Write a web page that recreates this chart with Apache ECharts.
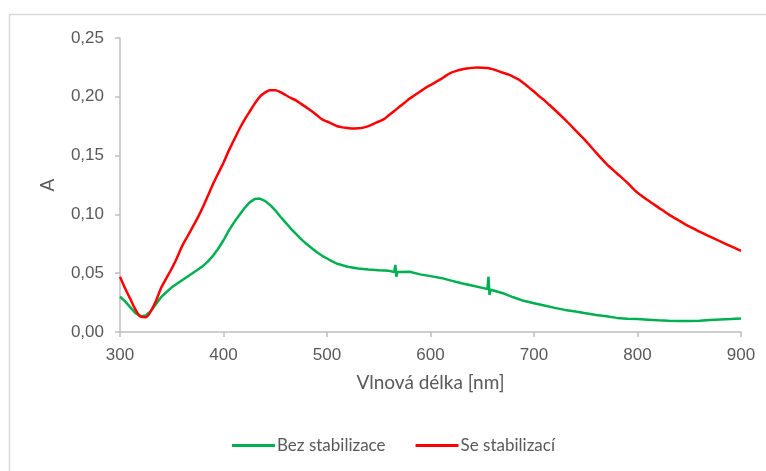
<!DOCTYPE html>
<html>
<head>
<meta charset="utf-8">
<script src="https://cdn.jsdelivr.net/npm/echarts@6/dist/echarts.min.js"></script>
<style>
html,body{margin:0;padding:0;background:#fff;}
#chart{width:766px;height:471px;}
</style>
</head>
<body>
<div id="chart"></div>
<script>
// Data
var seriesNames = ['Bez stabilizace', 'Se stabilizací'];
var xTicks = [300, 400, 500, 600, 700, 800, 900];
var yTicks = [0, 0.05, 0.10, 0.15, 0.20, 0.25];

var nmRed = [300,305,310,315,320,325,330,335,340,345,350,355,360,365,370,375,380,385,390,395,400,405,410,415,420,425,430,435,440,445,450,455,460,465,470,475,480,485,490,495,500,505,510,515,520,525,530,535,540,545,550,555,560,565,570,575,580,585,590,595,600,605,610,615,620,625,630,635,640,645,650,655,660,665,670,675,680,685,690,695,700,705,710,715,720,730,740,750,760,770,780,790,800,810,820,830,840,850,860,870,880,890,900];
var absRed = [0.047,0.037,0.028,0.019,0.013,0.0125,0.018,0.027,0.038,0.046,0.054,0.063,0.073,0.081,0.089,0.097,0.106,0.116,0.126,0.135,0.144,0.154,0.163,0.172,0.180,0.187,0.194,0.200,0.2035,0.2055,0.2055,0.204,0.2015,0.199,0.197,0.194,0.191,0.188,0.1845,0.181,0.179,0.177,0.175,0.174,0.1735,0.173,0.1732,0.1738,0.175,0.177,0.179,0.181,0.1845,0.188,0.1915,0.195,0.1985,0.2015,0.2045,0.2075,0.210,0.2125,0.215,0.218,0.2205,0.222,0.2232,0.224,0.2246,0.2249,0.2248,0.2245,0.2235,0.222,0.2205,0.219,0.217,0.2148,0.2115,0.208,0.2045,0.2005,0.197,0.193,0.189,0.1805,0.1715,0.1625,0.1525,0.143,0.135,0.127,0.1185,0.112,0.106,0.100,0.0948,0.0898,0.0853,0.081,0.077,0.073,0.069];

var nmGreen = [300,305,310,315,320,325,330,335,340,345,350,355,360,365,370,375,380,385,390,395,400,405,410,415,420,425,430,435,440,445,450,455,460,465,470,475,480,485,490,495,500,505,510,515,520,530,540,550,560,565,566,567,568,570,580,590,600,610,620,630,640,650,655,656,657,658,660,670,680,690,700,710,720,730,740,750,760,770,780,790,800,810,820,830,840,850,860,870,880,890,900];
var absGreen = [0.030,0.026,0.021,0.016,0.0135,0.014,0.018,0.024,0.030,0.034,0.038,0.041,0.044,0.047,0.050,0.053,0.056,0.060,0.065,0.071,0.078,0.086,0.093,0.099,0.105,0.110,0.1130,0.1135,0.1115,0.108,0.1035,0.098,0.093,0.088,0.0835,0.079,0.075,0.0715,0.068,0.065,0.0625,0.060,0.058,0.0567,0.0555,0.054,0.0532,0.0525,0.052,0.051,0.057,0.047,0.051,0.051,0.0512,0.049,0.0475,0.046,0.0437,0.0415,0.0395,0.0375,0.0365,0.047,0.0315,0.036,0.0355,0.033,0.0295,0.0265,0.0245,0.0225,0.0205,0.0188,0.0175,0.016,0.0145,0.0133,0.012,0.0113,0.011,0.0105,0.010,0.0096,0.0094,0.0093,0.0096,0.0101,0.0106,0.011,0.0115];

function pairs(xs, ys){ return xs.map(function(x,i){ return [x, ys[i]]; }); }

var chart = echarts.init(document.getElementById('chart'), null, {renderer:'canvas'});
var axisColor = '#bfbfbf';
var textColor = '#595959';
var titleFont = 'Lato, "Noto Sans", sans-serif';
var tickFont = '"Liberation Sans", Arial, sans-serif';
var option = {
  animation: false,
  backgroundColor: '#ffffff',
  graphic: [{
    type: 'rect', silent: true, z: -1,
    shape: {x: 9.5, y: 14.5, width: 820, height: 520},
    style: {fill: 'none', stroke: '#d9d9d9', lineWidth: 1.5}
  }],
  grid: {left: 120, right: 25, top: 38, bottom: 139, containLabel: false},
  legend: {
    data: seriesNames,
    left: 232, top: 437, padding: 0,
    icon: 'rect', itemWidth: 43, itemHeight: 3, itemGap: 30,
    textStyle: {color: textColor, fontSize: 17, fontFamily: titleFont, padding: [0,0,0,-3]}
  },
  xAxis: {
    type: 'value', min: xTicks[0], max: xTicks[xTicks.length-1], interval: 100,
    name: 'Vlnová délka [nm]', nameLocation: 'middle', nameGap: 41,
    nameTextStyle: {color: textColor, fontSize: 19, fontFamily: titleFont},
    axisLine: {show: true, lineStyle: {color: axisColor, width: 1.5}},
    axisTick: {show: true, length: 5, lineStyle: {color: axisColor, width: 1.5}},
    axisLabel: {color: textColor, fontSize: 17, margin: 15, fontFamily: tickFont},
    splitLine: {show: false}
  },
  yAxis: {
    type: 'value', min: 0, max: yTicks[yTicks.length-1], interval: 0.05,
    name: 'A', nameLocation: 'middle', nameGap: 63, nameRotate: 90,
    nameTextStyle: {color: textColor, fontSize: 19, fontFamily: titleFont},
    axisLine: {show: true, lineStyle: {color: axisColor, width: 1.5}},
    axisTick: {show: true, length: 5, lineStyle: {color: axisColor, width: 1.5}},
    axisLabel: {color: textColor, fontSize: 17, margin: 16, fontFamily: tickFont,
      formatter: function(v){ return v.toFixed(2).replace('.', ','); }},
    splitLine: {show: false}
  },
  series: [
    {name: seriesNames[0], type: 'line', data: pairs(nmGreen, absGreen), showSymbol: false, symbol: 'none',
     itemStyle: {color: '#00b050'}, lineStyle: {color: '#00b050', width: 2.5}},
    {name: seriesNames[1], type: 'line', data: pairs(nmRed, absRed), showSymbol: false, symbol: 'none', smooth: 0.3,
     itemStyle: {color: '#ff0000'}, lineStyle: {color: '#ff0000', width: 2.5}}
  ]
};
chart.setOption(option);
</script>
</body>
</html>
